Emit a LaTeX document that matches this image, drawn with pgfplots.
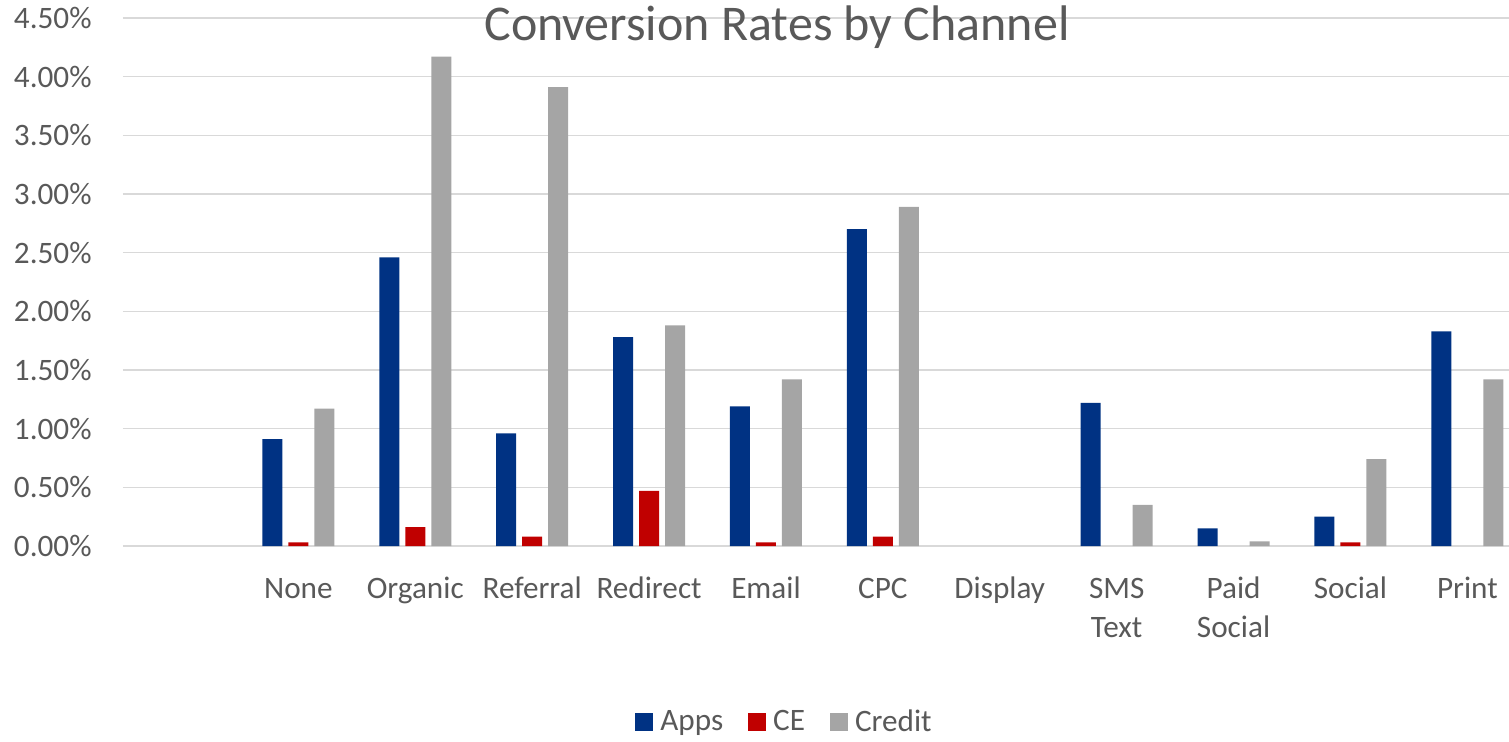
\documentclass[border=0pt]{standalone}
\usepackage{pgfplots}
\pgfplotsset{compat=1.18}
\usepackage{fontspec}
\setmainfont{Carlito}
\definecolor{apps}{HTML}{003283}
\definecolor{ce}{HTML}{C00000}
\definecolor{cred}{HTML}{A5A5A5}
\definecolor{txt}{HTML}{595959}
\definecolor{gridc}{HTML}{D9D9D9}
\begin{document}
\begin{tikzpicture}
\path[use as bounding box] (0,0) rectangle (754.5pt,370.5pt);
\begin{axis}[
  at={(61.5pt,97.5pt)}, anchor=south west,
  scale only axis, width=693pt, height=264pt,
  xmin=-0.5, xmax=11.356, ymin=0, ymax=4.5,
  ybar=3pt, bar width=10pt,
  axis line style={draw=none},
  major tick length=0pt,
  ymajorgrids, grid style={gridc, line width=0.75pt},
  ytick={0,0.5,1,1.5,2,2.5,3,3.5,4,4.5},
  /pgf/number format/assume math mode=true,
  yticklabel={\pgfmathprintnumber[fixed,fixed zerofill,precision=2]{\tick}\%},
  yticklabel style={font=\fontsize{15.6}{18}\selectfont, text=txt, anchor=east, inner sep=0pt, xshift=-15.5pt},
  xtick={1,...,11},
  xticklabels={\strut None,\strut Organic,\strut Referral,\strut Redirect,\strut Email,\strut CPC,\strut Display,{\strut SMS\\Text},{\strut Paid\\Social},\strut Social,\strut Print},
  xticklabel style={font=\fontsize{15.6}{19.5}\selectfont, text=txt, align=center, anchor=north, inner sep=0pt, yshift=-12.4pt},
  legend style={at={(0.478,-0.333)}, anchor=center, legend columns=-1, draw=none, fill=none,
    font=\fontsize{15.6}{18}\selectfont, text=txt,
    /tikz/every odd column/.append style={column sep=1.5pt},
    /tikz/every even column/.append style={column sep=10.5pt}},
  legend image code/.code={\fill[#1] (0pt,-4.5pt) rectangle (9pt,4.5pt);},
]
\addplot[fill=apps, draw=none] coordinates {(1,0.91)(2,2.46)(3,0.96)(4,1.78)(5,1.19)(6,2.70)(8,1.22)(9,0.15)(10,0.25)(11,1.83)};
\addlegendentry{Apps}
\addplot[fill=ce, draw=none] coordinates {(1,0.03)(2,0.16)(3,0.08)(4,0.47)(5,0.03)(6,0.08)(10,0.03)};
\addlegendentry{CE}
\addplot[fill=cred, draw=none] coordinates {(1,1.17)(2,4.17)(3,3.91)(4,1.88)(5,1.42)(6,2.89)(8,0.35)(9,0.04)(10,0.74)(11,1.42)};
\addlegendentry{Credit}
\end{axis}
\node[font=\fontsize{25}{30}\selectfont, text=txt] at (388.5pt,357pt) {Conversion Rates by Channel};
\end{tikzpicture}
\end{document}
